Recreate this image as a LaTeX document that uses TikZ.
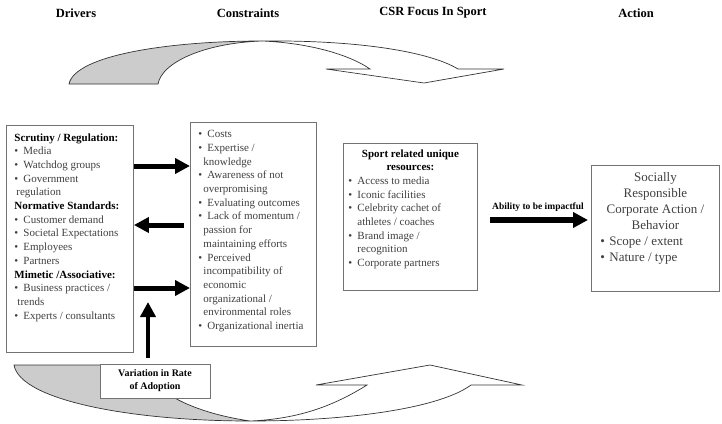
\documentclass[tikz,border=0pt]{standalone}
\usepackage{fontspec}
\setmainfont{Liberation Serif}
\usetikzlibrary{arrows.meta}

\newcommand{\bul}{\makebox[9pt][l]{\textbullet}}
\newcommand{\hdr}[1]{{\color{black}\bfseries #1}}
\newcommand{\boxtext}[3]{\parbox[t][#2][t]{#1}{\setlength{\parindent}{0pt}\fontsize{11}{13.7}\selectfont\raggedright #3}}

\tikzset{
	panel/.style={draw=black!55, line width=0.9pt, fill=white, inner xsep=8pt, inner ysep=8pt, anchor=north west, text=black!75},
	heading/.style={font=\fontsize{12.5}{14}\selectfont\bfseries},
	fat/.style={line width=5pt, -{Triangle[length=15pt,width=15pt]}},
	ribbon/.style={draw=black!80, line width=0.7pt},
}

\begin{document}
\begin{tikzpicture}[x=1pt,y=-1pt]
		\useasboundingbox (0,0) rectangle (722,423);
		
		\node[heading] (tdrivers) at (76,13) {Drivers}; 
		\node[heading] (tconstraints) at (248,13) {Constraints}; 
		\node[heading] (tfocus) at (433,13) {CSR Focus In Sport}; 
		\node[heading] (taction) at (636,13) {Action}; 
		
		% top ribbon: back (grey) and front (white)
		\filldraw[ribbon, fill=black!20] (69,84) .. controls (75,55) and (170,41) .. (262,41) .. controls (205,43) and (162,62) .. (158,84) -- cycle; 
		\filldraw[ribbon, fill=white] (262,41) .. controls (360,40) and (430,52) .. (458,69) -- (504,69) -- (424,83) -- (326,69) -- (370,69) .. controls (350,55) and (310,43) .. (262,41) -- cycle; 
		
		\node[panel] (drivers) at (6,125) {\boxtext{111pt}{211pt}{%
			\hdr{Scrutiny / Regulation:}\\
			\bul Media\\
			\bul Watchdog groups\\
			\bul Government\\
			\hspace*{2pt}regulation\\
			\hdr{Normative Standards:}\\
			\bul Customer demand\\
			\bul Societal Expectations\\
			\bul Employees\\
			\bul Partners\\
			\hdr{Mimetic /Associative:}\\
			\bul Business practices /\\
			\hspace*{3pt}trends\\
			\bul Experts / consultants}}; 
		
		\node[panel] (constraints) at (190,122) {\boxtext{110pt}{208pt}{%
			\bul Costs\\
			\bul Expertise /\\
			\hspace*{5pt}knowledge\\
			\bul Awareness of not\\
			\hspace*{5pt}overpromising\\
			\bul Evaluating outcomes\\
			\bul Lack of momentum /\\
			\hspace*{5pt}passion for\\
			\hspace*{5pt}maintaining efforts\\
			\bul Perceived\\
			\hspace*{5pt}incompatibility of\\
			\hspace*{5pt}economic\\
			\hspace*{5pt}organizational /\\
			\hspace*{5pt}environmental roles\\
			\bul Organizational inertia}}; 
		
		\node[panel, inner xsep=5pt, inner ysep=6pt] (sport) at (343,143) {\boxtext{124pt}{135pt}{%
			{\centering\hdr{Sport related unique\\resources:}\par}
			\bul Access to media\\
			\bul Iconic facilities\\
			\bul Celebrity cachet of\\
			\hspace*{9pt}athletes / coaches\\
			\bul Brand image /\\
			\hspace*{9pt}recognition\\
			\bul Corporate partners}}; 
		
		\node[panel, inner xsep=9pt, inner ysep=7pt] (action) at (591,165) {\boxtext{110pt}{112pt}{%
			\fontsize{13}{16}\selectfont
			{\centering Socially\\Responsible\\Corporate Action /\\Behavior\par}
			\bul Scope / extent\\
			\bul Nature / type}}; 
		
		\draw[fat] (drivers.east |- 0,166) -- (constraints.west |- 0,166);  % push 
		\draw[fat, shorten <=6pt] (constraints.west |- 0,225) -- (drivers.east |- 0,225);  % push back 
		\draw[fat] (drivers.east |- 0,288) -- (constraints.west |- 0,288); 
		
		\node[font=\fontsize{9.5}{11}\selectfont\bfseries] (ability) at (538,207) {Ability to be impactful}; 
		\draw[fat, line width=6pt, shorten <=12pt, shorten >=3pt] (sport.east |- 0,220) -- (action.west |- 0,220); 
		
		% bottom ribbon
		\filldraw[ribbon, fill=black!20] (14,365) -- (145,365) .. controls (150,392) and (195,413) .. (250,421) .. controls (130,421) and (20,400) .. (14,365) -- cycle; 
		\filldraw[ribbon, fill=white] (250,421) .. controls (350,421) and (440,408) .. (471,385) -- (522,385) -- (430,365) -- (316,385) -- (367,385) .. controls (335,405) and (300,419) .. (250,421) -- cycle; 
		
		\node[draw=black!55, line width=0.9pt, fill=white, minimum width=110pt, minimum height=34pt, align=center, font=\fontsize{10}{13}\selectfont\bfseries] (variation) at (155,381) {Variation in Rate\\of Adoption}; 
		\coordinate (vtip) at (148,302); 
		\draw[fat, line width=4pt] ([xshift=-7pt,yshift=6pt]variation.north) -- (vtip); 
		
	\end{tikzpicture}
\end{document}
